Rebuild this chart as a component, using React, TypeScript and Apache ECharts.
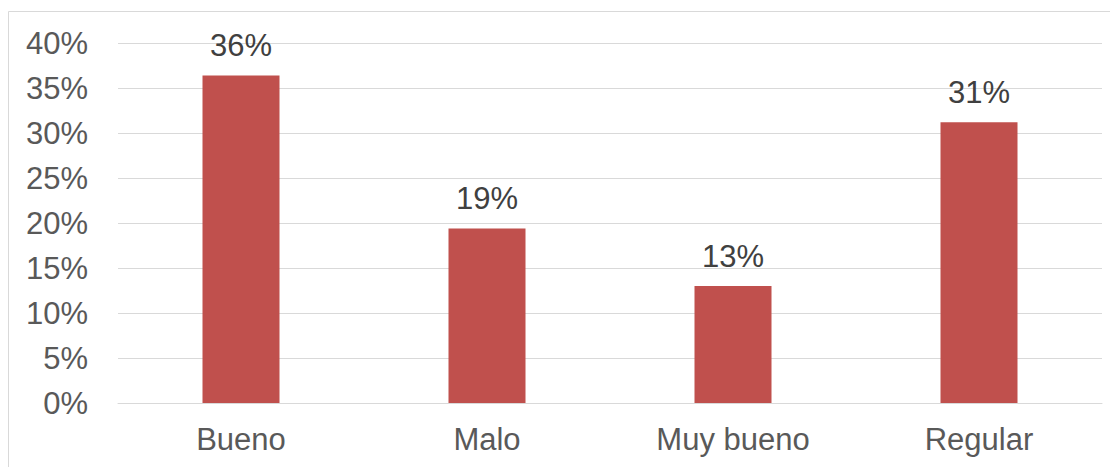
import React, { useEffect, useRef } from "react";
import * as echarts from "echarts";

const categories = ["Bueno", "Malo", "Muy bueno", "Regular"];
const values = [36.4, 19.4, 13.0, 31.2];
const yTicks = [0, 5, 10, 15, 20, 25, 30, 35, 40];

export default function App() {
  const ref = useRef<HTMLDivElement>(null);
  useEffect(() => {
    if (!ref.current) return;
    const chart = echarts.init(ref.current, undefined, { renderer: "svg" });
    const font = "Liberation Sans, Arial, sans-serif";
    chart.setOption({
      animation: false,
      graphic: [
        {
          type: "rect",
          shape: { x: 0.5, y: 3.5, width: 2000, height: 2000 },
          style: { fill: "none", stroke: "#d9d9d9", lineWidth: 1 },
          silent: true,
        },
      ],
      grid: { left: 110, right: 16, top: 35, bottom: 64, containLabel: false },
      xAxis: {
        type: "category",
        data: categories,
        axisLine: { show: true, lineStyle: { color: "#d9d9d9", width: 1 } },
        axisTick: { show: false },
        axisLabel: { color: "#595959", fontSize: 31, fontFamily: font, margin: 21 },
      },
      yAxis: {
        type: "value",
        min: yTicks[0],
        max: yTicks[yTicks.length - 1],
        interval: 5,
        axisLine: { show: false },
        axisTick: { show: false },
        splitLine: { lineStyle: { color: "#d9d9d9", width: 1 } },
        axisLabel: {
          color: "#595959",
          fontSize: 31,
          fontFamily: font,
          margin: 30,
          formatter: (v: number) => `${v}%`,
        },
      },
      series: [
        {
          type: "bar",
          data: values,
          barWidth: 77,
          itemStyle: { color: "#c0504d" },
          label: {
            show: true,
            position: "top",
            distance: 14,
            color: "#404040",
            fontSize: 31,
            fontFamily: font,
            formatter: (p: any) => `${Math.round(p.value)}%`,
          },
        },
      ],
    });
    return () => chart.dispose();
  }, []);
  return <div ref={ref} style={{ width: 1110, height: 459 }} />;
}
